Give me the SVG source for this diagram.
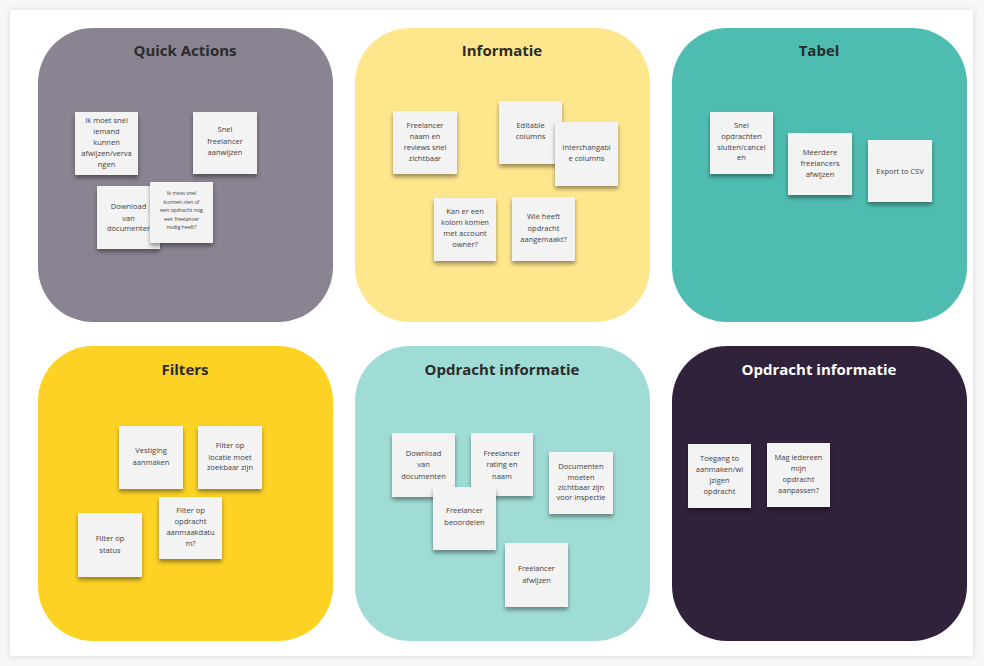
<svg xmlns="http://www.w3.org/2000/svg" width="984" height="666" viewBox="0 0 984 666">
<defs>
<filter id="card" x="-5%" y="-5%" width="110%" height="110%"><feDropShadow dx="0" dy="0" stdDeviation="3" flood-color="#000" flood-opacity="0.12"/></filter>
<filter id="ns" x="-20%" y="-20%" width="140%" height="150%"><feDropShadow dx="0" dy="3" stdDeviation="2" flood-color="#000" flood-opacity="0.4"/></filter>
</defs>
<style>
.t{font-family:"Open Sans","Liberation Sans",sans-serif;font-weight:700;font-size:15px;fill:#2b2b2b;text-anchor:middle}
.n{fill:#f3f3f3;filter:url(#ns)}
.x{font-family:"Open Sans","Liberation Sans",sans-serif;font-size:7.5px;fill:#3e3e3e;text-anchor:middle}
.s{font-family:"Open Sans","Liberation Sans",sans-serif;font-size:5.2px;fill:#3e3e3e;text-anchor:middle}
</style>
<rect width="984" height="666" fill="#f7f7f7"/>
<rect x="10" y="10" width="963" height="646" fill="#fff" filter="url(#card)"/>

<g id="quick-actions">
<rect x="38" y="28" width="295" height="294" rx="55" fill="#8a8391"/>
<text class="t" x="185" y="56">Quick Actions</text>
<g id="qa1"><rect class="n" x="75" y="112" width="63" height="63"/>
<text class="x"><tspan x="106.5" y="123">Ik moet snel</tspan><tspan x="106.5" y="134">iemand</tspan><tspan x="106.5" y="145">kunnen</tspan><tspan x="106.5" y="156">afwijzen/verva</tspan><tspan x="106.5" y="167">ngen</tspan></text></g>
<g id="qa2"><rect class="n" x="193" y="112" width="64" height="62"/>
<text class="x"><tspan x="225" y="132">Snel</tspan><tspan x="225" y="144">freelancer</tspan><tspan x="225" y="155">aanwijzen</tspan></text></g>
<g id="qa3"><rect class="n" x="97" y="186" width="63" height="63"/>
<text class="x"><tspan x="128.5" y="209">Download</tspan><tspan x="128.5" y="221">van</tspan><tspan x="128.5" y="231">documenter</tspan></text></g>
<g id="qa4"><rect class="n" x="150" y="182" width="63" height="61"/>
<text class="s"><tspan x="181.5" y="195">Ik moet snel</tspan><tspan x="181.5" y="204">kunnen zien of</tspan><tspan x="181.5" y="212">een opdracht nog</tspan><tspan x="181.5" y="221">een freelancer</tspan><tspan x="181.5" y="229">nodig heeft?</tspan></text></g>
</g>

<g id="informatie">
<rect x="355" y="28" width="295" height="294" rx="55" fill="#fee68c"/>
<text class="t" x="502" y="56">Informatie</text>
<g id="in1"><rect class="n" x="393" y="111" width="64" height="63"/>
<text class="x"><tspan x="425" y="128">Freelancer</tspan><tspan x="425" y="139">naam en</tspan><tspan x="425" y="150">reviews snel</tspan><tspan x="425" y="161">zichtbaar</tspan></text></g>
<g id="in2"><rect class="n" x="499" y="101" width="63" height="63"/>
<text class="x"><tspan x="530.5" y="128">Editable</tspan><tspan x="530.5" y="139">columns</tspan></text></g>
<g id="in3"><rect class="n" x="555" y="122" width="63" height="64"/>
<text class="x"><tspan x="586.5" y="150">Interchangabl</tspan><tspan x="586.5" y="161">e columns</tspan></text></g>
<g id="in4"><rect class="n" x="434" y="198" width="62" height="63"/>
<text class="x"><tspan x="465" y="214">Kan er een</tspan><tspan x="465" y="225">kolom komen</tspan><tspan x="465" y="236">met account</tspan><tspan x="465" y="247">owner?</tspan></text></g>
<g id="in5"><rect class="n" x="512" y="197" width="63" height="64"/>
<text class="x"><tspan x="543.5" y="219">Wie heeft</tspan><tspan x="543.5" y="231">opdracht</tspan><tspan x="543.5" y="242">aangemaakt?</tspan></text></g>
</g>

<g id="tabel">
<rect x="672" y="28" width="295" height="294" rx="55" fill="#4fbcb1"/>
<text class="t" x="819" y="56">Tabel</text>
<g id="tb1"><rect class="n" x="710" y="112" width="63" height="62"/>
<text class="x"><tspan x="741.5" y="128">Snel</tspan><tspan x="741.5" y="139">opdrachten</tspan><tspan x="741.5" y="150">sluiten/cancel</tspan><tspan x="741.5" y="160">en</tspan></text></g>
<g id="tb2"><rect class="n" x="788" y="133" width="64" height="62"/>
<text class="x"><tspan x="820" y="155">Meerdere</tspan><tspan x="820" y="166">freelancers</tspan><tspan x="820" y="177">afwijzen</tspan></text></g>
<g id="tb3"><rect class="n" x="868" y="140" width="64" height="62"/>
<text class="x" x="900" y="174">Export to CSV</text></g>
</g>

<g id="filters">
<rect x="38" y="346" width="295" height="295" rx="55" fill="#fdd225"/>
<text class="t" x="185" y="375">Filters</text>
<g id="fi1"><rect class="n" x="119" y="426" width="64" height="63"/>
<text class="x"><tspan x="151" y="453">Vestiging</tspan><tspan x="151" y="465">aanmaken</tspan></text></g>
<g id="fi2"><rect class="n" x="198" y="426" width="64" height="63"/>
<text class="x"><tspan x="230" y="448">Filter op</tspan><tspan x="230" y="460">locatie moet</tspan><tspan x="230" y="470">zoekbaar zijn</tspan></text></g>
<g id="fi3"><rect class="n" x="78" y="513" width="64" height="64"/>
<text class="x"><tspan x="110" y="541">Filter op</tspan><tspan x="110" y="553">status</tspan></text></g>
<g id="fi4"><rect class="n" x="159" y="497" width="63" height="62"/>
<text class="x"><tspan x="190.5" y="513">Filter op</tspan><tspan x="190.5" y="524">opdracht</tspan><tspan x="190.5" y="535">aanmaakdatu</tspan><tspan x="190.5" y="546">m?</tspan></text></g>
</g>

<g id="opdracht-informatie">
<rect x="355" y="346" width="295" height="295" rx="55" fill="#9fdcd5"/>
<text class="t" x="502" y="375">Opdracht informatie</text>
<g id="oi1"><rect class="n" x="392" y="433" width="63" height="64"/>
<text class="x"><tspan x="423.5" y="456">Download</tspan><tspan x="423.5" y="467">van</tspan><tspan x="423.5" y="479">documenten</tspan></text></g>
<g id="oi2"><rect class="n" x="471" y="433" width="62" height="63"/>
<text class="x"><tspan x="502" y="456">Freelancer</tspan><tspan x="502" y="467">rating en</tspan><tspan x="502" y="479">naam</tspan></text></g>
<g id="oi3"><rect class="n" x="549" y="452" width="64" height="62"/>
<text class="x"><tspan x="581" y="469">Documenten</tspan><tspan x="581" y="480">moeten</tspan><tspan x="581" y="490">zichtbaar zijn</tspan><tspan x="581" y="500">voor inspectie</tspan></text></g>
<g id="oi4"><rect class="n" x="433" y="487" width="63" height="63"/>
<text class="x"><tspan x="464.5" y="513">Freelancer</tspan><tspan x="464.5" y="525">beoordelen</tspan></text></g>
<g id="oi5"><rect class="n" x="505" y="543" width="63" height="64"/>
<text class="x"><tspan x="536.5" y="571">Freelancer</tspan><tspan x="536.5" y="583">afwijzen</tspan></text></g>
</g>

<g id="opdracht-informatie-2">
<rect x="672" y="346" width="295" height="295" rx="55" fill="#31223c"/>
<text class="t" x="819" y="375" style="fill:#fff">Opdracht informatie</text>
<g id="oj1"><rect class="n" x="688" y="444" width="63" height="64"/>
<text class="x"><tspan x="719.5" y="461">Toegang to</tspan><tspan x="719.5" y="472">aanmaken/wi</tspan><tspan x="719.5" y="483">jzigen</tspan><tspan x="719.5" y="494">opdracht</tspan></text></g>
<g id="oj2"><rect class="n" x="767" y="443" width="63" height="64"/>
<text class="x"><tspan x="798.5" y="460">Mag iedereen</tspan><tspan x="798.5" y="471">mijn</tspan><tspan x="798.5" y="482">opdracht</tspan><tspan x="798.5" y="493">aanpassen?</tspan></text></g>
</g>
<g id="connectors"/>
</svg>
